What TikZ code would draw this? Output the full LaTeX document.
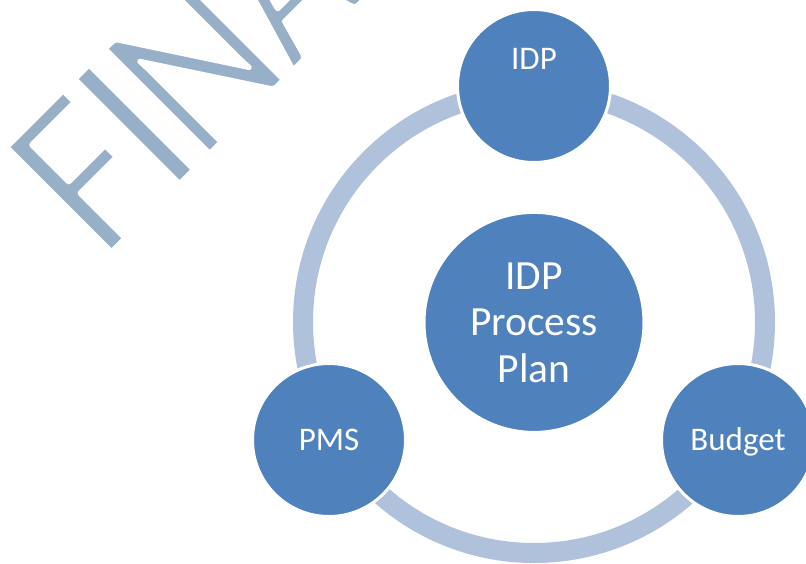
\documentclass[tikz,border=0pt]{standalone}
\usepackage{fontspec}
\setmainfont{Carlito}
\definecolor{circblue}{HTML}{4F81BD}
\definecolor{ringblue}{HTML}{B0C1DC}
\definecolor{wmark}{HTML}{98AFC8}
% thin the watermark glyphs: fill in watermark colour, stroke the outline in white
\newcommand{\wmthin}[1]{\special{pdf:literal direct 2 Tr 6 w 1 j 1 1 1 RG}#1\special{pdf:literal direct 0 Tr}}
\begin{document}
\begin{tikzpicture}[x=1pt,y=-1pt,
  bubble/.style={circle, fill=circblue, draw=white, line width=3pt, inner sep=0pt,
    minimum size=153pt, text=white, font=\fontsize{33}{40}\selectfont,
    text height=21pt, text depth=0pt},
  hubbubble/.style={circle, fill=circblue, draw=white, line width=3pt, inner sep=0pt,
    minimum size=220pt, text=white, align=center,
    font=\fontsize{41.5}{46.5}\selectfont},
  smalltxt/.style={text=white, font=\fontsize{33}{40}\selectfont, inner sep=0pt, anchor=base},
  ringline/.style={draw=ringblue, line width=20pt},
  wm/.style={text=wmark, rotate=45, anchor=base, inner sep=0pt,
    font=\fontsize{232}{232}\selectfont}]
\useasboundingbox (0,0) rectangle (806,563);
\clip (0,0) rectangle (806,563);
\fill[white] (0,0) rectangle (806,563);
% watermark
\node[wm, xscale=0.95] (wmF) at (137,227) {\wmthin{F}};
\node[wm] (wmI) at (187,177) {\wmthin{I}};
\node[wm, xscale=0.9] (wmN) at (247,117) {\wmthin{N}};
\node[wm, xscale=0.79] (wmA) at (330.5,33.5) {\wmthin{A}};
% ring
\coordinate (hub) at (534,322);
\draw[ringline] (hub) circle[radius=231pt];
% circles
\node[hubbubble] (center) at (534,322.4) {IDP\\Process\\Plan};
\node[bubble] (idp) at (534,86) {};
\node[smalltxt] (idptxt) at ([yshift=17pt]idp.center) {IDP};
\node[bubble] (pms) at (329,440) {PMS};
\node[bubble] (budget) at (738,440) {Budget};
\end{tikzpicture}
\end{document}
